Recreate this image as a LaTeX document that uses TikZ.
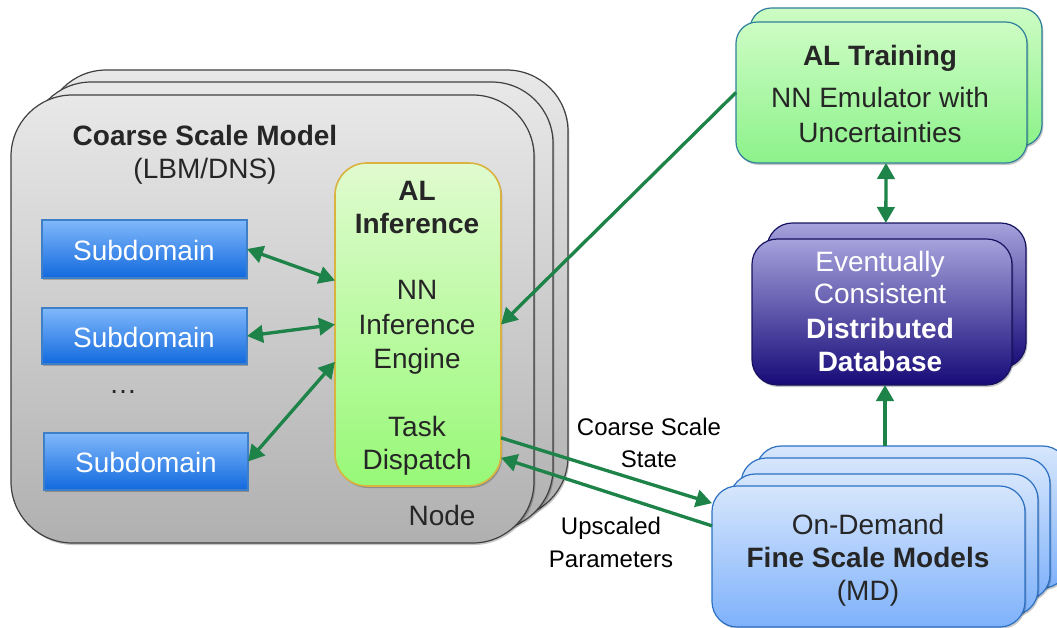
\documentclass[tikz,border=0pt]{standalone}
\usepackage{fontspec}
\setmainfont{Liberation Sans}
\usetikzlibrary{arrows.meta,shadows}
\definecolor{arrowgreen}{HTML}{1D8348}
\definecolor{ink}{HTML}{262626}
\tikzset{
  x=0.75pt,y=-0.75pt,
  panel/.style={inner sep=0pt,outer sep=0pt,line width=0.9pt,shading angle=0,
    drop shadow={shadow xshift=1pt,shadow yshift=-1.5pt,opacity=.22,fill=black}},
  grayp/.style={panel,draw=black!75,top color=gray!18,bottom color=gray!62,rounded corners=46pt},
  subp/.style={panel,draw=subedge,top color=subtop,bottom color=subbot,rounded corners=0pt},
  infp/.style={panel,draw=gold,line width=1.2pt,top color=inftop,bottom color=infbot,rounded corners=24pt},
  trainp/.style={panel,draw=trainedge,top color=traintop,bottom color=trainbot,rounded corners=16pt},
  dbp/.style={panel,draw=dbedge,top color=dbtop,bottom color=dbbot,rounded corners=19pt},
  finep/.style={panel,draw=fineedge,top color=finetop,bottom color=finebot,rounded corners=19pt},
  lbl/.style={anchor=base,inner sep=0pt,text=ink,font=\fontsize{21}{25}\selectfont},
  blbl/.style={lbl,font=\fontsize{21}{25}\selectfont\bfseries},
  wlbl/.style={lbl,text=white},
  wblbl/.style={blbl,text=white},
  slbl/.style={lbl,text=black,font=\fontsize{18}{22}\selectfont},
  link/.style={draw=arrowgreen,line width=2.5pt,{Triangle[length=12pt,width=13pt]}-{Triangle[length=12pt,width=13pt]}},
  onelink/.style={draw=arrowgreen,line width=2.5pt,-{Triangle[length=12pt,width=13pt]}},
}
\definecolor{subedge}{HTML}{3F7FC8}
\definecolor{subtop}{HTML}{80B8FB}
\definecolor{subbot}{HTML}{1169DE}
\definecolor{gold}{HTML}{D9B23F}
\definecolor{inftop}{HTML}{E0FBCF}
\definecolor{infbot}{HTML}{97F977}
\definecolor{trainedge}{HTML}{2F7F9C}
\definecolor{traintop}{HTML}{CDFCC4}
\definecolor{trainbot}{HTML}{8CF28A}
\definecolor{dbedge}{HTML}{17125F}
\definecolor{dbtop}{HTML}{A5A2DC}
\definecolor{dbbot}{HTML}{170A78}
\definecolor{fineedge}{HTML}{2B70C2}
\definecolor{finetop}{HTML}{D6E6FC}
\definecolor{finebot}{HTML}{7EB1FB}
\newcommand\bx[6]{%
  \pgfmathsetmacro\bxcx{(#3+#5)/2}\pgfmathsetmacro\bxcy{(#4+#6)/2}%
  \pgfmathsetmacro\bxw{(#5-#3)*0.75}\pgfmathsetmacro\bxh{(#6-#4)*0.75}%
  \node[#2,minimum width=\bxw pt,minimum height=\bxh pt] (#1) at (\bxcx,\bxcy) {};}
\newcommand\tx[5]{\node[#2] (#1) at (#3,#4) {#5};}
\begin{document}
\begin{tikzpicture}
\useasboundingbox[fill=white] (0,0) rectangle (1057,628);
% coarse scale stack
\bx{grayc}{grayp}{45}{70}{568}{518}
\bx{grayb}{grayp}{30}{82}{553}{530}
\bx{graya}{grayp}{11}{95}{534}{543}
% subdomains and inference
\bx{suba}{subp}{42}{220}{247}{278}
\bx{subb}{subp}{42}{308}{247}{364}
\bx{subc}{subp}{44}{433}{248}{490}
\bx{inf}{infp}{335}{163}{501}{486}
% training stack
\bx{trainb}{trainp}{750}{8}{1042}{146}
\bx{train}{trainp}{736}{22}{1027}{163}
% database stack
\bx{dbb}{dbp}{767}{223}{1026}{368}
\bx{db}{dbp}{752}{239}{1012}{385}
% fine scale stack
\bx{fined}{finep}{756}{446}{1068}{588}
\bx{finec}{finep}{741}{458}{1050}{600}
\bx{fineb}{finep}{730}{474}{1038}{615}
\bx{fine}{finep}{712}{486}{1025}{627}
% texts
\tx{ta}{blbl}{205}{145}{Coarse Scale Model}
\tx{tb}{lbl}{205}{178}{(LBM/DNS)}
\tx{tc}{wlbl}{144}{260}{Subdomain}
\tx{td}{wlbl}{144}{347}{Subdomain}
\tx{te}{lbl}{123}{393}{…}
\tx{tf}{wlbl}{146}{472}{Subdomain}
\tx{tg}{blbl}{417}{200}{AL}
\tx{th}{blbl}{417}{233}{Inference}
\tx{ti}{lbl}{417}{299}{NN}
\tx{tj}{lbl}{417}{334}{Inference}
\tx{tk}{lbl}{417}{368}{Engine}
\tx{tl}{lbl}{417}{436}{Task}
\tx{tm}{lbl}{417}{469}{Dispatch}
\tx{tn}{lbl}{442}{525}{Node}
\tx{to}{blbl}{880}{65}{AL Training}
\tx{tp}{lbl}{880}{107}{NN Emulator with}
\tx{tq}{lbl}{880}{142}{Uncertainties}
\tx{tr}{wlbl}{880}{271}{Eventually}
\tx{ts}{wlbl}{880}{303}{Consistent}
\tx{tt}{wblbl}{880}{338}{Distributed}
\tx{tu}{wblbl}{880}{371}{Database}
\tx{tv}{lbl}{868}{534}{On-Demand}
\tx{tw}{blbl}{868}{567}{Fine Scale Models}
\tx{tx}{lbl}{868}{600}{(MD)}
\tx{ty}{slbl}{649}{435}{Coarse Scale}
\tx{tz}{slbl}{649}{467}{State}
\tx{tA}{slbl}{611}{534}{Upscaled}
\tx{tB}{slbl}{611}{567}{Parameters}
% connectors
\draw[link] (suba.east) -- ([yshift=33pt]inf.west);
\draw[link] (subb.east) -- (inf.west);
\draw[link] (subc.east) -- ([yshift=-28pt]inf.west);
\draw[onelink] (train.west) -- (inf.east);
\draw[onelink] ([yshift=-85pt]inf.east) -- ([yshift=40pt]fine.west);
\draw[onelink] ([yshift=23pt]fine.west) -- ([yshift=-100pt]inf.east);
\draw[link] ([xshift=3.4pt]train.south) -- ([xshift=-8pt]dbb.north);
\draw[onelink] ([xshift=-20.25pt]fined.north) -- ([xshift=2.25pt]db.south);
\end{tikzpicture}
\end{document}
